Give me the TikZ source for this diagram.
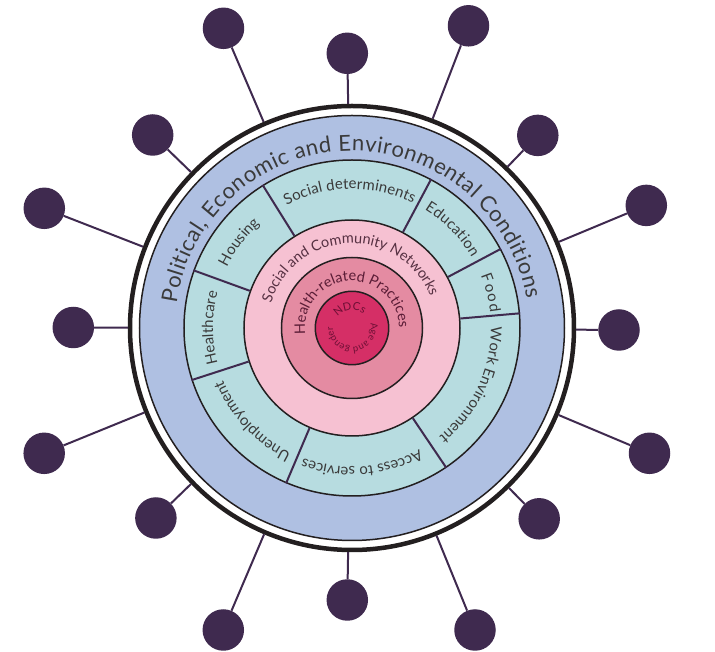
\documentclass[tikz,border=0pt]{standalone}
\usepackage{fontspec}
\setmainfont{Lato}
\usetikzlibrary{decorations.text}

\definecolor{envblue}{HTML}{AFC0E2}
\definecolor{socteal}{HTML}{B7DCE0}
\definecolor{netpink}{HTML}{F6C1D2}
\definecolor{practpink}{HTML}{E48BA2}
\definecolor{corered}{HTML}{D52F66}
\definecolor{satpurple}{HTML}{3F2A4F}
\definecolor{rimblack}{HTML}{231F20}
\definecolor{labelgray}{HTML}{3A3A3A}
\definecolor{netlabel}{HTML}{563042}
\definecolor{practlabel}{HTML}{5A1C36}
\definecolor{corelabel}{HTML}{6E0F35}

\newcommand\envfont{\fontsize{22}{26}\selectfont}
\newcommand\tealfont{\fontsize{15}{18}\selectfont}
\newcommand\netfont{\fontsize{14.5}{17}\selectfont}
\newcommand\practfont{\fontsize{14.5}{17}\selectfont}
\newcommand\ndcfont{\fontsize{11}{13}\selectfont}
\newcommand\agefont{\fontsize{9.5}{11}\selectfont}

\tikzset{
  disc/.style={circle, inner sep=0pt, draw=rimblack, line width=1.5pt},
  rimring/.style={circle, inner sep=0pt, draw=rimblack, line width=4.5pt},
  sat/.style={circle, inner sep=0pt, minimum size=41.5pt, fill=satpurple},
  spoke/.style={draw=satpurple, line width=2pt},
  divider/.style={draw=satpurple, line width=2pt},
  % text spread over the whole arc
  arctext/.style={decorate, decoration={text along path, text align={fit to path}, text color=#1}},
  % text centred on the arc
  arctextc/.style={decorate, decoration={text along path, text align={center}, text color=#1}},
}

\begin{document}
\begin{tikzpicture}[x=1pt,y=1pt]
\useasboundingbox (-352,-324) rectangle (363,328);

% concentric rings, outermost first
\node[rimring, minimum size=444pt] (rim) at (0,0) {};
\node[disc, fill=envblue, minimum size=425pt] (env) at (0,0) {};
\node[disc, fill=socteal, minimum size=336pt] (soc) at (0,0) {};
\node[disc, fill=netpink, minimum size=216pt] (net) at (0,0) {};
\node[disc, fill=practpink, minimum size=141pt] (pract) at (0,0) {};
\node[disc, fill=corered, minimum size=73.4pt] (core) at (0,0) {};

% sector dividers of the social-determinants ring
\foreach \a in {5,28,62,122,160,198,247,304}
  \draw[divider] (net.\a) -- (soc.\a);

% satellites and their spokes
\foreach \n/\x/\y in {1/-128.5/299.7, 2/-4.7/274.7, 3/116.5/302.2, 4/-199.3/193,
                      5/185.8/192.6, 6/-307.7/119.7, 7/294.3/122.6, 8/-278.7/0.5,
                      9/267/-2, 10/-307.8/-125.3, 11/297.5/-125.3, 12/-196.1/-190,
                      13/187.2/-190.8, 14/-128.7/-302, 15/-4.7/-272, 16/123/-302}
  \node[sat] (s\n) at (\x,\y) {};
\foreach \n in {1,...,16}
  \draw[spoke] (s\n) -- (rim);

% outer band title
\path[arctext=labelgray, decoration={text={|\envfont|Political, Economic and Environmental Conditions}}]
  (172:177) arc[start angle=172, end angle=9.5, radius=177];

% social determinants
\path[arctext=labelgray, decoration={text={|\tealfont|Social determinents}}]
  (118:139) arc[start angle=118, end angle=64, radius=139];
\path[arctext=labelgray, decoration={text={|\tealfont|Education}}]
  (58.5:139) arc[start angle=58.5, end angle=30.5, radius=139];
\path[arctext=labelgray, decoration={text={|\tealfont|Food}}]
  (22:139) arc[start angle=22, end angle=6.3, radius=139];
\path[arctextc=labelgray, decoration={text={|\tealfont|Work Environment}}]
  (394.6:139) arc[start angle=394.6, end angle=274.6, radius=139];
\path[arctext=labelgray, decoration={text={|\tealfont|Access to services}}]
  (299:139) arc[start angle=299, end angle=249.5, radius=139];
\path[arctext=labelgray, decoration={text={|\tealfont|Unemployment}}]
  (244:139) arc[start angle=244, end angle=203, radius=139];
\path[arctext=labelgray, decoration={text={|\tealfont|Healthcare}}]
  (195:139) arc[start angle=195, end angle=165, radius=139];
\path[arctext=labelgray, decoration={text={|\tealfont|Housing}}]
  (154:139) arc[start angle=154, end angle=133, radius=139];

% networks and practices
\path[arctextc=netlabel, decoration={text={|\netfont|Social and Community Networks}}]
  (182.5:84.5) arc[start angle=182.5, end angle=2.5, radius=84.5];
\path[arctextc=practlabel, decoration={text={|\practfont|Health-related Practices}}]
  (194:47) arc[start angle=194, end angle=-6, radius=47];

% core
\path[arctextc=corelabel, decoration={text={|\ndcfont|NDCs}}]
  (167:18) arc[start angle=167, end angle=27, radius=18];
\path[arctextc=corelabel, decoration={text={|\agefont|Age and gender}}]
  (36:19) arc[start angle=36, end angle=-204, radius=19];
\end{tikzpicture}
\end{document}
